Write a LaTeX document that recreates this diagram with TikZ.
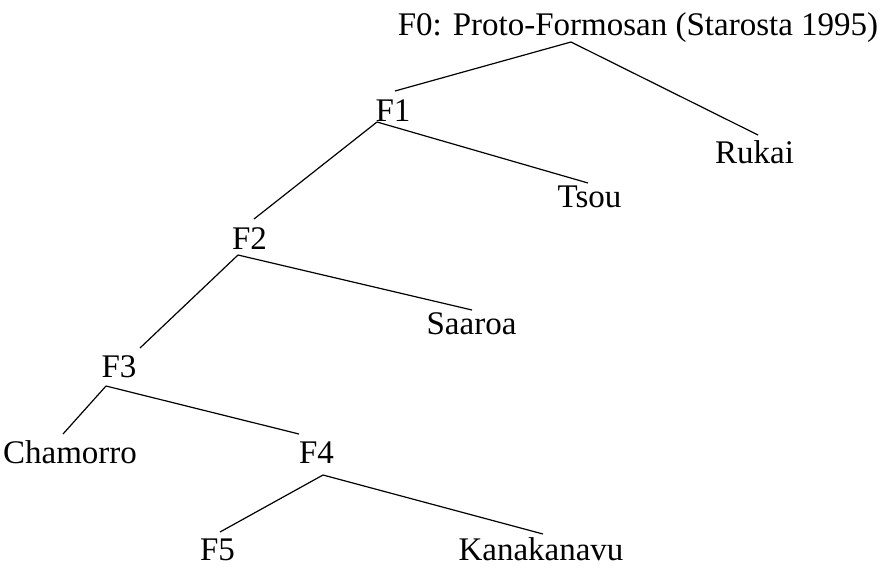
\documentclass[tikz,border=0pt]{standalone}
\usepackage{fontspec}
\setmainfont{Liberation Serif}
\usetikzlibrary{calc}
\tikzset{
  lbl/.style={anchor=base, inner sep=0pt, font=\fontsize{33}{38}\selectfont},
  edge/.style={line width=1.2pt, black}
}
\begin{document}
\begin{tikzpicture}[x=1pt,y=1pt]
\useasboundingbox (0,0) rectangle (888,-568);
\node[lbl] (F0) at (638,-35) {F0: Proto-Formosan (Starosta 1995)};
\node[lbl] (F1) at (393,-121) {F1};
\node[lbl] (Rukai) at (754.5,-163) {Rukai};
\node[lbl] (Tsou) at (589.5,-207) {Tsou};
\node[lbl] (F2) at (249.5,-249) {F2};
\node[lbl] (Saaroa) at (471.5,-334) {Saaroa};
\node[lbl] (F3) at (119,-377) {F3};
\node[lbl] (Chamorro) at (70,-463) {Chamorro};
\node[lbl] (F4) at (316.5,-463) {F4};
\node[lbl] (F5) at (217.5,-560) {F5};
\node[lbl] (Kanakanavu) at (541,-560) {Kanakanavu};
% attachment points
\coordinate (F0s) at ($(F0.base)+(-67,-7)$);
\coordinate (F1n) at ($(F1.base)+(2,30)$);
\coordinate (F1s) at ($(F1.base)+(-16,-1)$);
\coordinate (Rukain) at ($(Rukai.base)+(3.5,28)$);
\coordinate (Tsoun) at ($(Tsou.base)+(-1.5,24)$);
\coordinate (F2n) at ($(F2.base)+(4.5,30)$);
\coordinate (F2s) at ($(F2.base)+(-11.5,-6)$);
\coordinate (Saaroan) at ($(Saaroa.base)+(0.5,24)$);
\coordinate (F3n) at ($(F3.base)+(21,29)$);
\coordinate (F3s) at ($(F3.base)+(-13,-9)$);
\coordinate (Chamorron) at ($(Chamorro.base)+(-7,29)$);
\coordinate (F4n) at ($(F4.base)+(-17.5,29)$);
\coordinate (F4s) at ($(F4.base)+(6.5,-12)$);
\coordinate (F5n) at ($(F5.base)+(2.5,28)$);
\coordinate (Kanakanavun) at ($(Kanakanavu.base)+(2,26)$);
\draw[edge] (F0s) -- (F1n);
\draw[edge] (F0s) -- (Rukain);
\draw[edge] (F1s) -- (F2n);
\draw[edge] (F1s) -- (Tsoun);
\draw[edge] (F2s) -- (F3n);
\draw[edge] (F2s) -- (Saaroan);
\draw[edge] (F3s) -- (Chamorron);
\draw[edge] (F3s) -- (F4n);
\draw[edge] (F4s) -- (F5n);
\draw[edge] (F4s) -- (Kanakanavun);
\end{tikzpicture}
\end{document}
